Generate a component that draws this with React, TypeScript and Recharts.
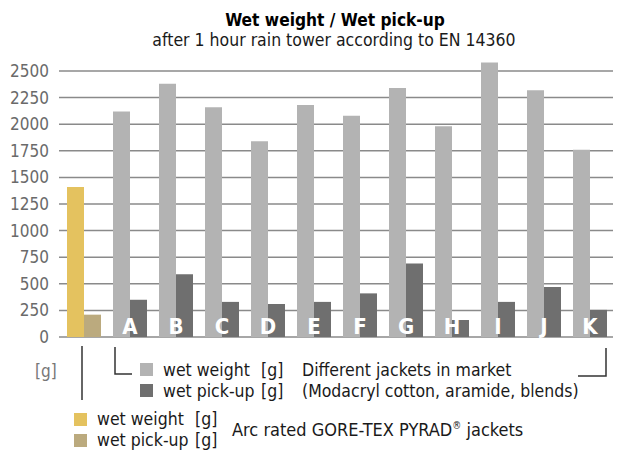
import React from "react";
import { BarChart, Bar, XAxis, YAxis, CartesianGrid, Cell, LabelList } from "recharts";

const categories = ["GORE-TEX PYRAD", "A", "B", "C", "D", "E", "F", "G", "H", "I", "J", "K"];
const wetWeight = [1410, 2120, 2380, 2160, 1840, 2180, 2080, 2340, 1980, 2580, 2320, 1760];
const wetPickUp = [210, 350, 590, 330, 310, 330, 410, 690, 160, 330, 470, 255];
const letters = ["", "A", "B", "C", "D", "E", "F", "G", "H", "I", "J", "K"];
const yTicks = [0, 250, 500, 750, 1000, 1250, 1500, 1750, 2000, 2250, 2500];

const data = categories.map((c, i) => ({ name: c, wetWeight: wetWeight[i], wetPickUp: wetPickUp[i], letter: letters[i] }));

const GOLD = "#e4c25f";
const TAN = "#bbaa7e";
const LIGHT = "#b3b3b3";
const DARK = "#6f6f6f";
const GRID = "#8a8a8a";
const FONT = "'Liberation Sans Narrow', 'DejaVu Sans Condensed', sans-serif";
const TXT = "#1a1a1a";

const LetterLabel = (props: any) => {
  const { x, y, height, index } = props;
  const l = letters[index];
  if (!l) return null;
  return (
    <text x={x} y={Number(y) + Number(height) - 3} textAnchor="middle" fill="#fff" fontFamily={FONT} fontWeight="bold" fontSize={22}>
      {l}
    </text>
  );
};

export default function App() {
  return (
    <div style={{ position: "absolute", left: 0, top: 0, width: 622, height: 453, background: "#fff", fontFamily: FONT }}>
      <BarChart width={622} height={453} data={data} margin={{ top: 62.5, right: 9, bottom: 116, left: 0 }} barCategoryGap={6} barGap={0}>
        <CartesianGrid vertical={false} horizontalValues={yTicks} stroke={GRID} strokeWidth={1.5} />
        <XAxis dataKey="name" hide />
        <YAxis
          width={61}
          domain={[0, 2580]}
          ticks={yTicks}
          interval={0}
          axisLine={false}
          tickLine={{ stroke: GRID, strokeWidth: 1.5 }}
          tickSize={2}
          tickMargin={10}
          tick={{ fill: "#6a6a6a", fontSize: 17, fontFamily: FONT }}
        />
        <Bar dataKey="wetWeight" isAnimationActive={false}>
          {data.map((d, i) => (
            <Cell key={i} fill={i === 0 ? GOLD : LIGHT} />
          ))}
        </Bar>
        <Bar dataKey="wetPickUp" isAnimationActive={false}>
          {data.map((d, i) => (
            <Cell key={i} fill={i === 0 ? TAN : DARK} />
          ))}
          <LabelList dataKey="letter" content={<LetterLabel />} />
        </Bar>
      </BarChart>
      <svg width={622} height={453} style={{ position: "absolute", left: 0, top: 0, pointerEvents: "none" }} fontFamily={FONT}>
        <text x={335} y={26} textAnchor="middle" fontWeight="bold" fontSize={17.2} fill="#000">Wet weight / Wet pick-up</text>
        <text x={334} y={46} textAnchor="middle" fontSize={17.5} fill={TXT}>after 1 hour rain tower according to EN 14360</text>

        <text x={35} y={377} fontSize={17} fill="#777">[g]</text>
        <line x1={82} y1={346} x2={82} y2={400} stroke="#333" strokeWidth={1.5} />
        <polyline points="115,347 115,374 132,374" fill="none" stroke="#333" strokeWidth={1.5} />
        <polyline points="606,348 606,376 578,376" fill="none" stroke="#333" strokeWidth={1.5} />

        <rect x={140} y={363} width={13} height={13} fill={LIGHT} />
        <rect x={140} y={384} width={13} height={13} fill={DARK} />
        <text x={163} y={376} fontSize={17.5} fill={TXT}>wet weight</text>
        <text x={261} y={376} fontSize={17.5} fill={TXT}>[g]</text>
        <text x={163} y={397} fontSize={17.5} fill={TXT}>wet pick-up</text>
        <text x={261} y={397} fontSize={17.5} fill={TXT}>[g]</text>
        <text x={302} y={376} fontSize={17.5} fill={TXT}>Different jackets in market</text>
        <text x={302} y={397} fontSize={17.5} fill={TXT}>(Modacryl cotton, aramide, blends)</text>

        <rect x={74} y={413} width={13} height={13} fill={GOLD} />
        <rect x={74} y={434} width={13} height={13} fill={TAN} />
        <text x={97} y={425} fontSize={17.5} fill={TXT}>wet weight</text>
        <text x={195} y={425} fontSize={17.5} fill={TXT}>[g]</text>
        <text x={97} y={446} fontSize={17.5} fill={TXT}>wet pick-up</text>
        <text x={195} y={446} fontSize={17.5} fill={TXT}>[g]</text>
        <text x={232} y={436} fontSize={18} fill={TXT}>
          Arc rated GORE-TEX PYRAD<tspan fontSize={10} dy={-7}>®</tspan><tspan dy={7}> jackets</tspan>
        </text>
      </svg>
    </div>
  );
}
